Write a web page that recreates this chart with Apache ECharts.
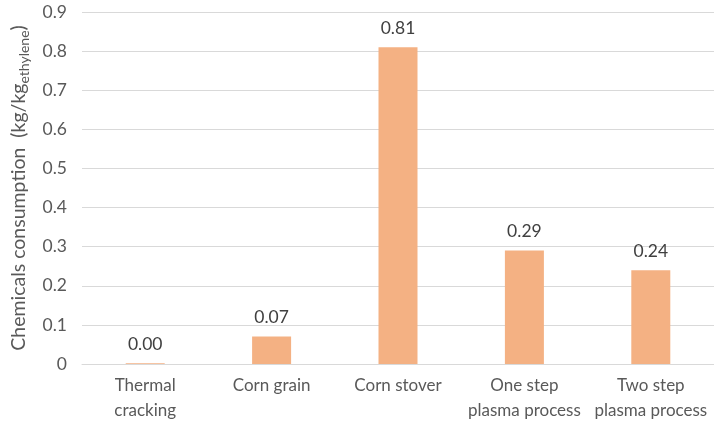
<!DOCTYPE html>
<html>
<head>
<meta charset="utf-8">
<script src="https://cdn.jsdelivr.net/npm/echarts@6/dist/echarts.min.js"></script>
<style>
  html, body { margin: 0; padding: 0; background: #fff; }
  #chart { width: 714px; height: 427px; }
</style>
</head>
<body>
<div id="chart"></div>
<script>
// Chemicals consumption per kg of ethylene, by production route
const categories = [
  'Thermal\ncracking',
  'Corn grain',
  'Corn stover',
  'One step\nplasma process',
  'Two step\nplasma process'
];
const consumption = [0.002, 0.07, 0.81, 0.29, 0.24];
const yTicks = { min: 0, max: 0.9, step: 0.1 };

const FONT = 'Lato, "Open Sans", sans-serif';
const chart = echarts.init(document.getElementById('chart'), null, { renderer: 'canvas' });

chart.setOption({
  animation: false,
  backgroundColor: '#ffffff',
  grid: { left: 82, right: -6, top: 12, bottom: 63 },
  xAxis: {
    type: 'category',
    data: categories,
    axisLine: { show: true, lineStyle: { color: '#d9d9d9', width: 1 } },
    axisTick: { show: false },
    axisLabel: {
      color: '#595959',
      fontFamily: FONT,
      fontSize: 17,
      lineHeight: 25,
      margin: 9,
      interval: 0
    }
  },
  yAxis: {
    type: 'value',
    min: yTicks.min,
    max: yTicks.max,
    interval: yTicks.step,
    axisLine: { show: false },
    axisTick: { show: false },
    splitLine: { lineStyle: { color: '#d9d9d9', width: 1 } },
    axisLabel: {
      color: '#595959',
      fontFamily: FONT,
      fontSize: 17.5,
      margin: 15,
      formatter: v => (v === 0 ? '0' : v.toFixed(1))
    },
    name: '{m|Chemicals consumption  (kg/kg}{s|ethylene}{m|)}',
    nameLocation: 'middle',
    nameRotate: 90,
    nameGap: 48,
    nameTextStyle: {
      rich: {
        m: { color: '#595959', fontFamily: FONT, fontSize: 19.5, lineHeight: 24, verticalAlign: 'bottom' },
        s: { color: '#595959', fontFamily: FONT, fontSize: 14, lineHeight: 24, verticalAlign: 'bottom', padding: [0, 0, -3, 0] }
      }
    }
  },
  series: [{
    type: 'bar',
    data: consumption,
    barWidth: 39,
    itemStyle: { color: '#F4B183' },
    label: {
      show: true,
      position: 'top',
      distance: 10,
      color: '#404040',
      fontFamily: FONT,
      fontSize: 17.5,
      formatter: p => p.value.toFixed(2)
    }
  }]
});
</script>
</body>
</html>
